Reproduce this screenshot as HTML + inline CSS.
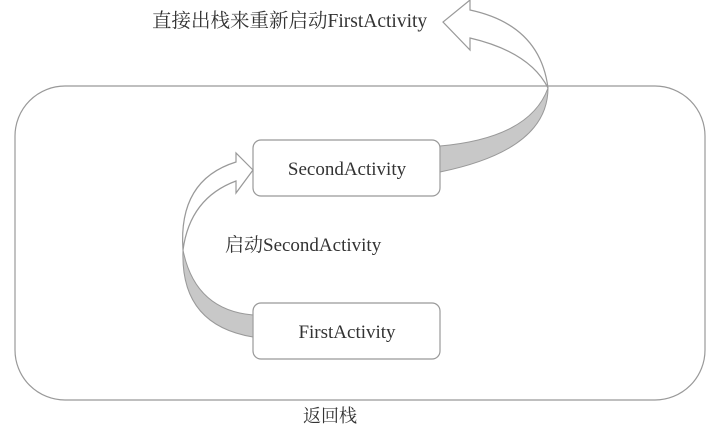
<!DOCTYPE html>
<html><head><meta charset="utf-8"><style>
html,body{margin:0;padding:0;background:#fff;}
svg{display:block;}
text{font-family:"Liberation Serif","Noto Serif CJK SC",serif;fill:#333;}
</style></head><body>
<svg width="721" height="438" viewBox="0 0 721 438" xmlns="http://www.w3.org/2000/svg">
<rect x="15" y="86" width="690" height="314" rx="50" ry="50" fill="none" stroke="#999" stroke-width="1.2"/>
<rect x="253" y="140" width="187" height="56" rx="8" fill="#fff" stroke="#999" stroke-width="1.2"/>
<rect x="253" y="303" width="187" height="56" rx="8" fill="#fff" stroke="#999" stroke-width="1.2"/>
<text x="347" y="175" font-size="19" text-anchor="middle">SecondActivity</text>
<text x="347" y="338" font-size="19" text-anchor="middle">FirstActivity</text>
<text x="225" y="251" font-size="19">启动SecondActivity</text>
<text x="330" y="422" font-size="18" text-anchor="middle">返回栈</text>
<text x="152" y="27" font-size="19.5">直接出栈来重新启动FirstActivity</text>
<!-- top arrow -->
<path d="M440,146 Q530,138 548,88 Q548,150 440,172 Z" fill="#c8c8c8" stroke="#999" stroke-width="1"/>
<path d="M548,88 Q540,25 470,10 L470,0 L443,22 L470,50 L470,38 Q530,52 548,88 Z" fill="#fff" stroke="#999" stroke-width="1.2"/>
<!-- left arrow -->
<path d="M253,315 Q195,310 183,250 Q180,325 253,337 Z" fill="#c8c8c8" stroke="#999" stroke-width="1"/>
<path d="M183,250 Q178,180 236,162 L236,153 L253,170 L236,193 L236,181 Q190,198 183,250 Z" fill="#fff" stroke="#999" stroke-width="1.2"/>
</svg>
</body></html>
